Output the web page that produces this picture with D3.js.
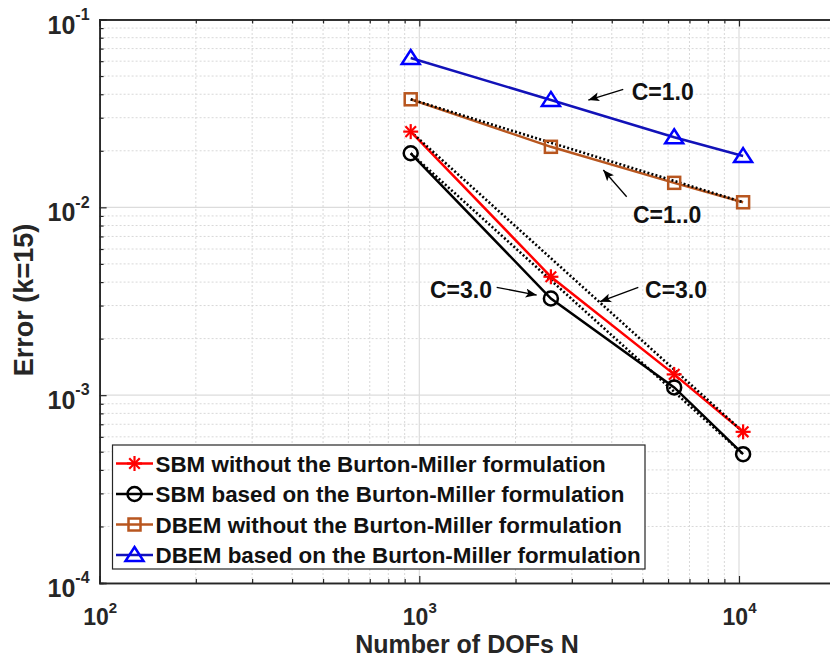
<!DOCTYPE html>
<html>
<head>
<meta charset="utf-8">
<script src="https://cdn.jsdelivr.net/npm/d3@7"></script>
<style>
  body { margin: 0; background: #fff; }
  svg { display: block; font-family: "Liberation Sans", Arial, sans-serif; font-weight: bold; }
</style>
</head>
<body>
<div id="chart"></div>
<script>
// data
const dofs = [940, 2580, 6270, 10300];
const sbmNoBM = [0.0253, 0.00427, 0.00129, 0.000638];
const sbmBM = [0.0194, 0.00327, 0.00110, 0.000485];
const dbemNoBM = [0.0376, 0.0210, 0.0135, 0.01064];
const dbemBM = [0.0624, 0.0373, 0.0236, 0.01875];
const seriesNames = [
  "SBM without the Burton-Miller formulation",
  "SBM based on the Burton-Miller formulation",
  "DBEM without the Burton-Miller formulation",
  "DBEM based on the Burton-Miller formulation"
];
const xMajor = [1e2, 1e3, 1e4];
const yMajor = [1e-4, 1e-3, 1e-2, 1e-1];
// annotations: [text x, text y, arrow tail x, tail y, head x, head y] in data units
const noteLabels = ["C=1.0", "C=1..0", "C=3.0", "C=3.0"];
const notePos = [
  [4617, 0.03727, 4345, 0.04249, 3378, 0.03727],
  [4660, 0.00825, 4453, 0.01139, 3763, 0.01580],
  [1080, 0.00329, 1746, 0.00375, 2329, 0.003412],
  [5082, 0.00329, 4842, 0.00375, 3674, 0.003145]
];

const W = 830, H = 668;
const margin = { top: 19.5, left: 99.6, bottom: 85 };
const svg = d3.select("#chart").append("svg")
    .attr("width", W)
    .attr("height", H);

const x = d3.scaleLog().domain([1e2, 2e4]).range([margin.left, margin.left + 2.30103 * 319.7]);
const y = d3.scaleLog().domain([1e-4, 1e-1]).range([H - margin.bottom, margin.top]);
const x0 = x.range()[0], x1 = x.range()[1];
const y0 = y.range()[0], y1 = y.range()[1];

// minor positions 2..9 of each decade
const xMinor = [], yMinor = [];
[1e2, 1e3, 1e4].forEach(d => { for (let k = 2; k <= 9; k++) if (d * k <= 2e4) xMinor.push(d * k); });
[1e-4, 1e-3, 1e-2].forEach(d => { for (let k = 2; k <= 9; k++) yMinor.push(d * k); });

const axisCol = "#262626";

// grid
const grid = svg.append("g");
grid.selectAll(".xmin").data(xMinor).join("line")
    .attr("x1", d => x(d)).attr("x2", d => x(d)).attr("y1", y0).attr("y2", y1)
    .attr("stroke", "#d8d8d8").attr("stroke-width", 1).attr("stroke-dasharray", "2,2");
grid.selectAll(".ymin").data(yMinor).join("line")
    .attr("y1", d => y(d)).attr("y2", d => y(d)).attr("x1", x0).attr("x2", x1)
    .attr("stroke", "#d8d8d8").attr("stroke-width", 1).attr("stroke-dasharray", "2,2");
grid.selectAll(".xmaj").data(xMajor).join("line")
    .attr("x1", d => x(d)).attr("x2", d => x(d)).attr("y1", y0).attr("y2", y1)
    .attr("stroke", "#dcdcdc").attr("stroke-width", 1.2);
grid.selectAll(".ymaj").data(yMajor).join("line")
    .attr("y1", d => y(d)).attr("y2", d => y(d)).attr("x1", x0).attr("x2", x1)
    .attr("stroke", "#dcdcdc").attr("stroke-width", 1.2);

// axes
function styleAxis(g) {
  g.select(".domain").attr("stroke", axisCol).attr("stroke-width", 1.5);
  g.selectAll(".tick line").attr("stroke", axisCol).attr("stroke-width", 1.2);
}
function powLabels(g, size, supSize) {
  g.selectAll(".tick text").each(function(d) {
    const t = d3.select(this);
    t.text(null).attr("fill", axisCol).attr("font-size", size + "px");
    t.append("tspan").text("10");
    t.append("tspan").attr("dy", -0.55 * size).attr("font-size", supSize + "px")
      .text(Math.round(Math.log10(d)));
  });
}

svg.append("g").attr("transform", "translate(0," + y0 + ")")
    .call(d3.axisBottom(x).tickValues(xMinor).tickSize(-4).tickFormat(""))
    .call(styleAxis);
const xAxisG = svg.append("g").attr("transform", "translate(0," + y0 + ")")
    .call(d3.axisBottom(x).tickValues(xMajor).tickSize(-7).tickPadding(26))
    .call(styleAxis)
    .call(g => powLabels(g, 23, 15));

svg.append("g").attr("transform", "translate(0," + y1 + ")")
    .call(d3.axisTop(x).tickValues(xMinor).tickSize(-4).tickFormat(""))
    .call(styleAxis);
svg.append("g").attr("transform", "translate(0," + y1 + ")")
    .call(d3.axisTop(x).tickValues(xMajor).tickSize(-7).tickFormat(""))
    .call(styleAxis);

svg.append("g").attr("transform", "translate(" + x0 + ",0)")
    .call(d3.axisLeft(y).tickValues(yMinor).tickSize(-4).tickFormat(""))
    .call(styleAxis);
const yAxisG = svg.append("g").attr("transform", "translate(" + x0 + ",0)")
    .call(d3.axisLeft(y).tickValues(yMajor).tickSize(-7).tickPadding(10))
    .call(styleAxis)
    .call(g => powLabels(g, 25, 16));
yAxisG.selectAll(".tick text").attr("dy", 13.5);

// axis titles
svg.append("text")
    .attr("x", 467).attr("y", 653)
    .attr("text-anchor", "middle")
    .attr("font-size", "25px")
    .attr("fill", axisCol)
    .text("Number of DOFs N");
svg.append("text")
    .attr("transform", "translate(33,300) rotate(-90)")
    .attr("text-anchor", "middle")
    .attr("font-size", "27px")
    .attr("fill", axisCol)
    .text("Error (k=15)");

// series
const series = [
  { name: seriesNames[0], values: sbmNoBM, color: "#ff0000", lineColor: "#ff0000", marker: "star" },
  { name: seriesNames[1], values: sbmBM, color: "#000000", lineColor: "#000000", marker: "circle" },
  { name: seriesNames[2], values: dbemNoBM, color: "#b8561f", lineColor: "#b8561f", marker: "square" },
  { name: seriesNames[3], values: dbemBM, color: "#0000ff", lineColor: "#1212b8", marker: "triangle" }
];

const line = d3.line().x(d => x(d[0])).y(d => y(d[1]));
const plot = svg.append("g");

series.forEach(s => {
  plot.append("path")
      .datum(dofs.map((n, i) => [n, s.values[i]]))
      .attr("d", line)
      .attr("fill", "none")
      .attr("stroke", s.lineColor)
      .attr("stroke-width", 2.5);
});

// dotted power-law reference lines through first and last points
[sbmNoBM, sbmBM, dbemNoBM].forEach(v => {
  const n = dofs.length - 1;
  plot.append("path")
      .datum([[dofs[0], v[0]], [dofs[n], v[n]]])
      .attr("d", line)
      .attr("fill", "none")
      .attr("stroke", "#000")
      .attr("stroke-width", 2.6)
      .attr("stroke-dasharray", "2,2.2");
});

function drawMarker(g, type, cx, cy, color) {
  if (type === "star") {
    const r = 7.5;
    [0, 45, 90, 135].forEach(a => {
      const rad = a * Math.PI / 180;
      g.append("line")
          .attr("x1", cx - r * Math.cos(rad)).attr("y1", cy - r * Math.sin(rad))
          .attr("x2", cx + r * Math.cos(rad)).attr("y2", cy + r * Math.sin(rad))
          .attr("stroke", color).attr("stroke-width", 2.2);
    });
  } else if (type === "circle") {
    g.append("circle").attr("cx", cx).attr("cy", cy).attr("r", 7)
        .attr("fill", "none").attr("stroke", color).attr("stroke-width", 2.5);
  } else if (type === "square") {
    g.append("rect").attr("x", cx - 6).attr("y", cy - 6).attr("width", 12).attr("height", 12)
        .attr("fill", "none").attr("stroke", color).attr("stroke-width", 2.5);
  } else if (type === "triangle") {
    g.append("path")
        .attr("d", "M" + cx + "," + (cy - 8) + "L" + (cx + 9) + "," + (cy + 6) + "L" + (cx - 9) + "," + (cy + 6) + "Z")
        .attr("fill", "none").attr("stroke", color).attr("stroke-width", 2.5)
        .attr("stroke-linejoin", "miter");
  }
}

series.forEach(s => {
  dofs.forEach((n, i) => drawMarker(plot, s.marker, x(n), y(s.values[i]), s.color));
});

// annotations
svg.append("defs").append("marker")
    .attr("id", "head")
    .attr("markerUnits", "userSpaceOnUse")
    .attr("markerWidth", 12).attr("markerHeight", 10)
    .attr("refX", 11).attr("refY", 4.5)
    .attr("orient", "auto")
    .append("path").attr("d", "M0,0 L11,4.5 L0,9 L2.5,4.5 Z").attr("fill", "#000");

notePos.forEach((p, i) => {
  svg.append("line")
      .attr("x1", x(p[2])).attr("y1", y(p[3]))
      .attr("x2", x(p[4])).attr("y2", y(p[5]))
      .attr("stroke", "#000").attr("stroke-width", 1.3)
      .attr("marker-end", "url(#head)");
  svg.append("text")
      .attr("x", x(p[0])).attr("y", y(p[1]))
      .attr("font-size", "23px")
      .attr("fill", "#111")
      .text(noteLabels[i]);
});

// legend
const leg = svg.append("g");
leg.append("rect")
    .attr("x", 112.5).attr("y", 445).attr("width", 532.5).attr("height", 124)
    .attr("fill", "#fff").attr("stroke", axisCol).attr("stroke-width", 1.2);
series.forEach((s, i) => {
  const ly = 463.5 + i * 30.5;
  leg.append("line").attr("x1", 116).attr("x2", 153).attr("y1", ly).attr("y2", ly)
      .attr("stroke", s.lineColor).attr("stroke-width", 2.5);
  drawMarker(leg, s.marker, 134.5, ly, s.color);
  leg.append("text")
      .attr("x", 155.5).attr("y", ly + 8)
      .attr("font-size", "22.4px")
      .attr("fill", "#111")
      .text(s.name);
});
</script>
</body>
</html>
